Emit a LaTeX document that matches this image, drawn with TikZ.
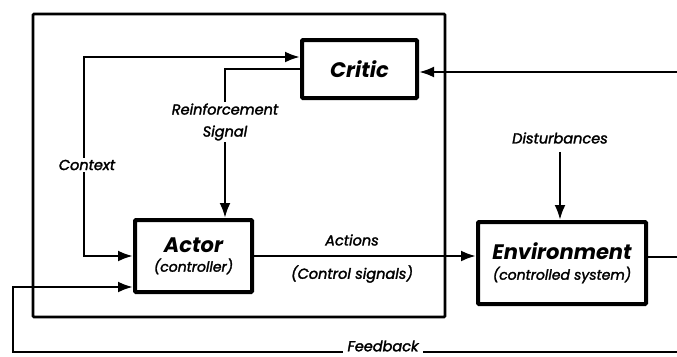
\documentclass[tikz,border=0pt]{standalone}
\usepackage{fontspec}
\setmainfont{Poppins}
\newfontfamily\labelfont{Poppins}[FakeBold=2]
\usetikzlibrary{arrows.meta,positioning}

\begin{document}
\begin{tikzpicture}[x=1pt, y=-1pt,
  block/.style = {draw, line width=4pt, rounded corners=1pt, align=center, inner sep=0pt},
  lbl/.style = {font=\labelfont\itshape\fontsize{14.5}{22}\selectfont, align=center, fill=white, inner sep=2pt},
  sig/.style = {line width=2.6pt, -{Latex[length=15pt,width=11pt]}},
  wire/.style = {line width=2.6pt}]
\useasboundingbox (0,0) rectangle (677,356);

% agent frame
\draw [line width=2.6pt, rounded corners=1pt] (33,14) rectangle (445,317);

% blocks
\node [block, minimum width=115pt, minimum height=58pt] (critic) at (359.5,69)
  {\bfseries\itshape\fontsize{21}{24}\selectfont Critic};
\node [block, minimum width=117pt, minimum height=72pt] (actor) at (193.5,256)
  {{\bfseries\itshape\fontsize{21}{24}\selectfont Actor}\\[5pt]
   {\labelfont\itshape\fontsize{14}{16}\selectfont (controller)}};
\node [block, minimum width=168pt, minimum height=82pt] (env) at (562,263)
  {{\bfseries\itshape\fontsize{21}{24}\selectfont Environment}\\[6pt]
   {\labelfont\itshape\fontsize{14}{16}\selectfont (controlled system)}};

% free ends at the right border
\coordinate (cr) at (677,72);
\coordinate (er) at (677,257);
\coordinate (fb) at (677,352);
\coordinate (fbl) at (13,287);

% context
\draw [wire, {Latex[length=15pt,width=11pt]}-{Latex[length=15pt,width=11pt]}]
  ([yshift=12pt]critic.west) -| ([xshift=-49pt]actor.west) -- (actor.west);
\node [lbl] (context) at (87,165) {Context};

% reinforcement
\draw [sig] (critic.west) -| ([xshift=31.5pt]actor.north);
\node [lbl] (reinf) at (225,122) {Reinforcement\\Signal};

% actions
\draw [sig] (actor.east) -- (actor.east -| env.west);
\node [lbl, fill=none] (actions) at (352,240) {Actions};
\node [lbl, fill=none] (ctrl) at (352,274) {(Control signals)};

% disturbances
\node [lbl, fill=none] (dist) at (560,138) {Disturbances};
\draw [sig] (dist.south) ++(0,-6pt) -- (dist |- env.north);

% outputs and feedback
\draw [wire] (env.east |- er) -- (er);
\draw [sig] (cr) -- (cr -| critic.east);
\draw [sig] (fb) -| (fbl) -- (fbl -| actor.west);
\node [lbl, inner xsep=5pt, inner ysep=4pt] (feedback) at (383,346) {Feedback};
\end{tikzpicture}
\end{document}
